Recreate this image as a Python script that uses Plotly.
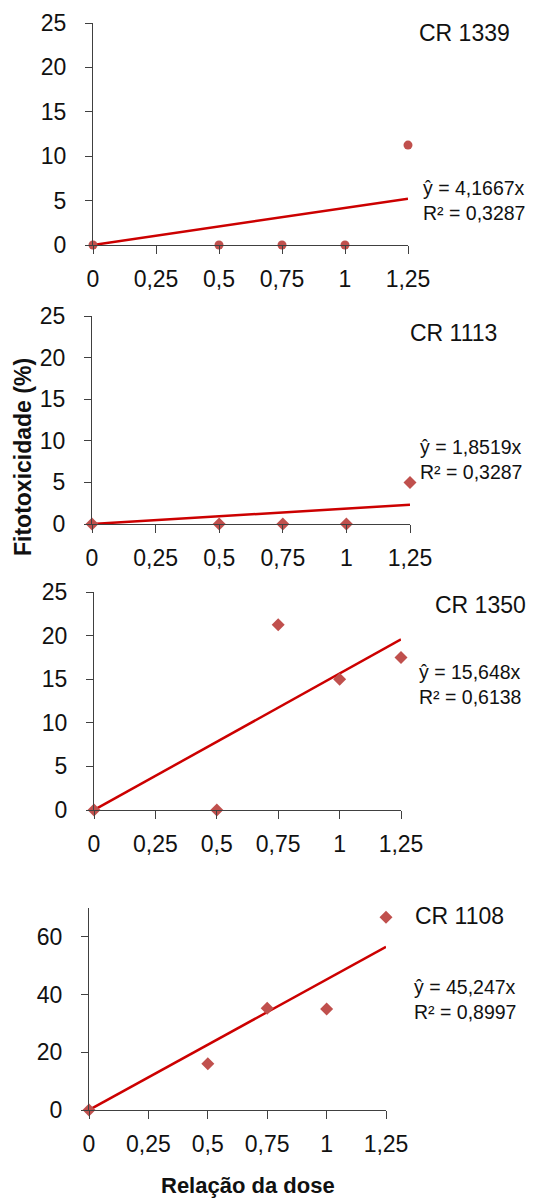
import plotly.graph_objects as go

# page offset (browser default body margin) -> figure sized to fit the window
OFF = 8
W, H = 550 - OFF, 1198 - OFF

# ---- data ----
dose = [0, 0.5, 0.75, 1, 1.25]
cr1339 = [0, 0, 0, 0, 11.25]
cr1113 = [0, 0, 0, 0, 5]
cr1350 = [0, 0, 21.25, 15, 17.5]
cr1108 = [0, 16, 35.3, 35, 66.8]
series = [cr1339, cr1113, cr1350, cr1108]
names = ["CR 1339", "CR 1113", "CR 1350", "CR 1108"]
slopes = [4.1667, 1.8519, 15.648, 45.247]
eq_text = ["ŷ = 4,1667x", "ŷ = 1,8519x", "ŷ = 15,648x", "ŷ = 45,247x"]
r2_text = ["R² = 0,3287", "R² = 0,3287", "R² = 0,6138", "R² = 0,8997"]
symbols = ["circle", "diamond", "diamond", "diamond"]
x_ticks = [0, 0.25, 0.5, 0.75, 1, 1.25]
x_ticktext = ["0", "0,25", "0,5", "0,75", "1", "1,25"]
y_ranges = [[0, 25], [0, 25], [0, 25], [0, 70]]
y_dtick = [5, 5, 5, 20]

# ---- layout (window pixels) ----
px_x = [(93, 408), (92, 410), (94, 401), (89, 386)]
px_y = [(23, 245), (316, 524), (592, 810), (908, 1110)]
title_pos = [(417, 33), (408, 333), (433, 605), (413, 916)]
eq_pos = [(421, 188), (418, 447), (417, 672), (412, 987)]
line_gap = 25


def fx(p):
    return (p - OFF) / W


def fy(p):
    return 1 - (p - OFF) / H


FONT = "Liberation Sans, Arial"
MARK = "#C0504D"
TREND = "#CC0000"
AXIS = "#404040"
TXT = "#111111"

fig = go.Figure()
annotations = []
for i in range(4):
    xa = "x" if i == 0 else f"x{i+1}"
    ya = "y" if i == 0 else f"y{i+1}"
    fig.add_trace(go.Scatter(
        x=[0, 1.25], y=[0, slopes[i] * 1.25], mode="lines",
        line=dict(color=TREND, width=2.5), xaxis=xa, yaxis=ya,
        showlegend=False, hoverinfo="skip", cliponaxis=False))
    fig.add_trace(go.Scatter(
        x=dose, y=series[i], mode="markers", name=names[i],
        marker=dict(symbol=symbols[i], size=9 if symbols[i] == "circle" else 10, color=MARK),
        xaxis=xa, yaxis=ya, showlegend=False, cliponaxis=False))
    xkey = "xaxis" if i == 0 else f"xaxis{i+1}"
    ykey = "yaxis" if i == 0 else f"yaxis{i+1}"
    fig.update_layout(**{
        xkey: dict(domain=[fx(px_x[i][0]), fx(px_x[i][1])], range=[0, 1.25],
                   anchor=ya, tickvals=x_ticks, ticktext=x_ticktext,
                   showgrid=False, zeroline=False, showline=True,
                   linecolor=AXIS, linewidth=1, ticks="outside", ticklen=8,
                   tickcolor=AXIS, tickfont=dict(family=FONT, size=23, color=TXT),
                   ticklabelstandoff=5, automargin=False, fixedrange=True),
        ykey: dict(domain=[fy(px_y[i][1]), fy(px_y[i][0])], range=y_ranges[i],
                   anchor=xa, dtick=y_dtick[i], tick0=0,
                   showgrid=False, zeroline=False, showline=True,
                   linecolor=AXIS, linewidth=1, ticks="outside", ticklen=7,
                   tickcolor=AXIS, tickfont=dict(family=FONT, size=23, color=TXT),
                   ticklabelstandoff=14, automargin=False, fixedrange=True),
    })
    annotations.append(dict(text=names[i], x=fx(title_pos[i][0]), y=fy(title_pos[i][1]),
                            xref="paper", yref="paper", xanchor="left", yanchor="middle",
                            showarrow=False, font=dict(family=FONT, size=23, color=TXT)))
    annotations.append(dict(text=eq_text[i], x=fx(eq_pos[i][0]), y=fy(eq_pos[i][1]),
                            xref="paper", yref="paper", xanchor="left", yanchor="middle",
                            showarrow=False, font=dict(family=FONT, size=19.5, color=TXT)))
    annotations.append(dict(text=r2_text[i], x=fx(eq_pos[i][0]), y=fy(eq_pos[i][1] + line_gap),
                            xref="paper", yref="paper", xanchor="left", yanchor="middle",
                            showarrow=False, font=dict(family=FONT, size=19.5, color=TXT)))

annotations.append(dict(text="<b>Fitotoxicidade (%)</b>", x=fx(23), y=fy(457),
                        xref="paper", yref="paper", xanchor="center", yanchor="middle",
                        textangle=-90, showarrow=False,
                        font=dict(family=FONT, size=23, color=TXT)))
annotations.append(dict(text="<b>Relação da dose</b>", x=fx(248), y=fy(1185),
                        xref="paper", yref="paper", xanchor="center", yanchor="middle",
                        showarrow=False, font=dict(family=FONT, size=22, color=TXT)))

fig.update_layout(width=W, height=H, margin=dict(l=0, r=0, t=0, b=0, autoexpand=False),
                  paper_bgcolor="white", plot_bgcolor="white",
                  annotations=annotations, showlegend=False)

fig.write_html("out.html", config={"displayModeBar": False})
